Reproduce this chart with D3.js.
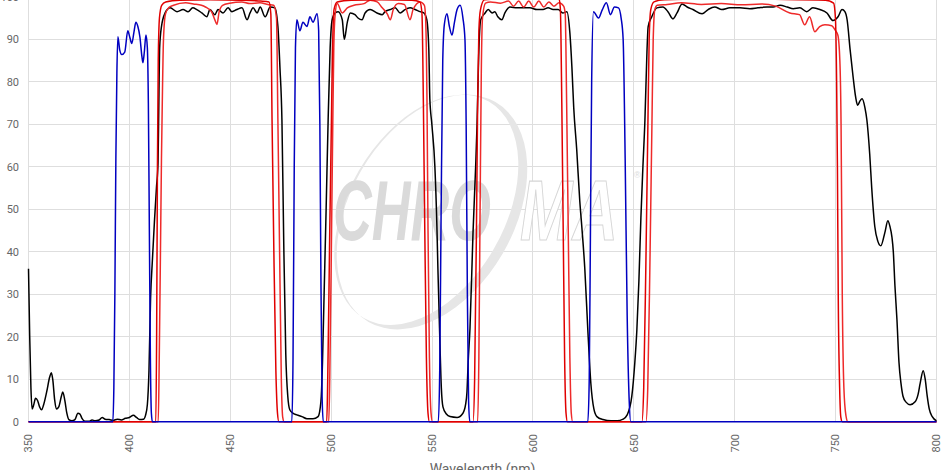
<!DOCTYPE html>
<html>
<head>
<meta charset="utf-8">
<script src="https://cdn.jsdelivr.net/npm/d3@7/dist/d3.min.js"></script>
<style>
  html, body { margin: 0; padding: 0; background: #fff; }
  svg { display: block; }
</style>
</head>
<body>
<svg id="chart" width="951" height="470"></svg>
<script>
// ---- DATA (wavelength nm, transmission %) ----
const xTicks = [350, 400, 450, 500, 550, 600, 650, 700, 750, 800];
const yTicks = [0, 10, 20, 30, 40, 50, 60, 70, 80, 90, 100];
const xLabel = "Wavelength (nm)";

const blackSeries = [
[350,36],[350.6,20],[351.2,8],[351.8,3],[352.6,4],[353.5,5.5],[354.5,5],[355.5,3.5],[356.5,2.8],[357.5,4],[359,7],[360.5,10.5],[361.3,11.5],[362,10],[363,5],[363.8,3],[365,3.5],[366.3,6],[367,7],[368,5],[369,2],[370,0.5],[371.5,0.2],[373,0.5],[374.5,2],[375.5,1.8],[376.5,0.8],[378,0.1],[380,0.1],[381.5,0.4],[383,0.2],[385,0.4],[386.5,1],[388,0.6],[390,0.5],[392,0.3],[394,0.6],[396,0.4],[398,0.8],[400,1],[402,1.5],[403.5,1],[405,0.5],[407,0.6],[408,1.5],
[408.9,4],[409.7,12],[410.5,29],[411.4,38],[412.4,47],[413.4,55],[414.2,61],[414.6,75],[415,88],[415.9,93],[417.7,96.2],[420.2,97.4],[423.6,96.5],[426.6,97],[429.1,96.5],
[431.4,97.4],[433.4,97],[435.9,96.2],[438.4,95.3],[439.9,97],[442.4,95.8],[443.9,97],[446.4,96.2],[448.9,97.4],[450.8,96.5],[453.3,97],[455.8,97.4],[458.3,94.6],[459.8,96.2],[461.3,97.4],[463.3,96.2],[464.8,97.6],[467.3,95.3],[469.8,97.6],
[472.1,97.4],[473.6,93],[474.6,83.5],[475.6,71],[476.5,42],[477.5,16],[478.5,6],[479.5,2.8],[481,2],[483,1.6],[485.5,1.2],[488,0.7],[491,0.7],[493.5,1.2],[494.5,3],[495.1,6],[495.7,14],[496.5,30],[497.5,50],[498.5,71],[499.5,88],[500.5,94.6],[502,96.2],[503.5,96.5],[505.5,94.6],[506.5,90],[508,94],[509.5,96.2],
[511.8,95.8],[513.3,95],[515.3,94.6],[516.8,96.2],[519.3,97],[522.7,96.2],[525.3,95.8],[526.7,96.5],[529.3,97],[531.7,97.4],[534.2,96.2],[536.6,97],[539.1,97.4],[541.6,97],[544.1,96.5],
[545.9,96.2],[547.4,94.6],[548.4,87.5],[548.9,76],[549.9,70],[551.4,60],[552.4,46],[552.9,36],[553.7,22],[554.6,8],[555.4,3.5],[557.1,1.8],[558.9,1.2],[562.4,1],[565.3,2],[566.6,4],[567.3,7],[567.9,14],[568.8,22],[570.3,44.5],[571.6,60],[572.3,70],[573.1,86],[574.1,94.6],[576.3,96.2],[577.8,97],[579.8,96.2],
[581.1,96.5],[582.6,95.3],[584.6,94.6],[586.1,96.2],[588.6,97.6],[592.1,97.4],[595,97.4],[598.5,97.4],[602,97],[605,97],[607.5,97.4],[610,97],[612.5,97],
[614.8,96.2],[616.8,96.5],[618.3,91.5],[619.3,83.5],[620.2,74],[621.7,64],[623.2,52],[624.2,46],[625.7,36],[627.2,21.6],[628.7,9],[630.2,3],[631.7,1.2],[634.7,0.5],[638.7,0.2],[641.7,0.2],[644.7,0.6],[646.7,1.6],
[649,6],[650.5,14],[651.5,21.6],[652.5,33],[653.5,48],[654.5,60],[655.5,71],[656.5,87],[657.1,93],[658.9,95.3],[661.4,97.4],[664.4,97.6],[666.9,96.5],[669.4,94.8],[671.4,96.2],[673.9,98.3],[676.4,97.6],[679.3,97],[683.8,96],[686.8,97],
[690.1,97.6],[693.6,97],[697.6,97.4],[702.6,97.4],[707.5,97.2],[711.5,97.4],[716,97.6],[719,97.6],[722.5,98],[726,97.6],[729,97.2],
[732.3,97.4],[735.7,96.5],[738.7,97.4],[742.2,97],[745.7,96.2],[748.7,94.4],[751.2,95.3],[753.2,97],[754.6,96.5],[755.7,94.6],[757.2,87.5],[758.7,81],
[759.9,76.5],[760.9,74.5],[762.1,75.5],[763.1,76],[764.5,74],[765.5,71],[766.9,63],[767.9,55],[769.4,46],[770.9,42.5],[772.4,41.4],[774.4,44.5],[775.9,47.3],[776.9,46],[777.9,43.5],[778.6,40],[779.4,32],[780.4,24],[781.4,14],[782.4,9],[783.4,6],[784.9,4.6],[786.9,4],[789.4,4.7],[790.9,6.5],[791.9,9],[793.4,12],[794.4,10],[795.4,6],[796.4,3],[797.9,1.2],[800,0.2]
];

const blueSeries = [
[350,0],[391.8,0],[392.3,8],[392.8,30],[393.3,62],[393.8,82],[394.3,90.6],[395.2,87.5],[396.2,86.4],[397.7,87],[399.2,92],[400.2,90.5],[401.2,89],[402.2,91.5],[403.2,94],[404.2,93],[405.2,90.6],[406.2,86],[406.7,84.5],[407.4,87],[408.2,91],[408.9,88],[409.4,75],[409.9,45],[410.4,15],[410.9,2],[411.4,0],
[480.5,0],[481.1,15],[481.7,60],[482.3,88],[483,94.6],[484.5,92],[486,94],[488,93],[489.5,95.3],[491,94],[493,96],[493.8,92],[494.4,70],[494.9,35],[495.5,6],[496.1,0],
[553.1,0],[553.8,12],[554.5,50],[555.3,85],[556.1,93.5],[557.4,96],[558.6,93],[559.9,91],[561.1,94],[562.4,97],[563.9,98],[565.3,95],[566.3,90],[566.9,70],[567.5,30],[568.1,5],[568.7,0],
[627.2,0],[627.9,10],[628.5,45],[629.1,80],[630,96.5],[632.5,95],[634.4,97],[636.4,98.6],[638.4,95.8],[640.4,97.6],[642.4,97.4],[643.7,95],[644.7,90],[645.7,62],[646.7,25],[647.7,5],[648.5,0],[800,0]
];

const redSeriesA = [
[350,0],[413.1,0],[413.5,20],[413.9,60],[414.3,85],[414.9,95],[416,98],[418,98.8],[425,99.2],[440,99.3],[455,99.2],[465,99],[469.2,98.8],[470.1,96],[470.7,71],[471.6,40],[472.6,12],[473.4,2],[474.1,0],
[497.8,0],[498.3,10],[499.3,45],[500.1,70],[500.7,88],[501.4,97],[503,98.8],[510,99.2],[525,99.3],[540,99.2],[544,98.8],[545,96],[545.7,75],[546.4,45],[547.2,15],[548,2],[548.7,0],
[570.3,0],[571.1,10],[572,45],[572.6,75],[573.2,92],[574,97],[576,99.3],[590,99.6],[605,99.6],[613,99.4],[613.6,97],[614.3,75],[615,45],[615.7,15],[616.4,2],[617.1,0],
[654,0],[654.9,8],[655.9,35],[657,71],[657.6,90],[658.4,97],[660,98.8],[665,99.3],[690,99.5],[720,99.4],[745,99.2],[749,98.5],[749.9,95],[750.5,80],[750.9,60],[751.3,30],[752,8],[752.6,1],[753.3,0],[800,0]
];

const redSeriesB = [
[350,0],[414.3,0],[414.8,15],[415.4,40],[415.9,62],[416.3,75],[416.9,90],[417.9,96],[419.4,97.4],[421.9,98],[427.9,98.6],
[431.7,98.3],[435.7,98],[437.7,97.6],[440.7,96.5],[442.4,94.5],[443.4,93.5],[444.5,96.5],[446.2,98],[449.7,98.5],[455.7,98.8],[459.7,98.4],[464.7,98.6],[468.7,98.2],
[471.5,98],[472.9,95],[473.6,71],[474.5,38],[475.3,10],[476,1],[476.7,0],
[498.8,0],[499.3,10],[500.2,45],[500.8,70],[501.3,88],[502,96],[503,98.4],[505.5,96.2],[508,97.4],
[511.3,98],[516.3,98.4],[519.3,99.2],[522.8,98.8],[525.3,97.4],[527.8,96],[529.3,94.6],[530.8,97],[533.3,98.4],[536.3,98.2],[539.1,94.6],[540.6,97],[544.1,98.8],
[546.2,98],[546.8,95],[547.5,75],[548,45],[548.7,15],[549.5,2],[550.2,0],
[572.6,0],[573.2,15],[573.8,50],[574.4,82],[575,95],[576.5,98.5],[579,98.8],
[583.9,98.5],[587.9,99],[590.4,97.8],[592.9,99],[595.4,97.6],[597.9,99],[600.4,97.6],[602.9,99],[605.4,97.6],[607.9,98.8],[610.4,97.8],[612.9,98.6],
[615.2,97.8],[616,96],[616.7,75],[617.5,45],[618.3,15],[619,2],[619.7,0],
[656,0],[656.9,8],[657.9,35],[659,71],[659.6,90],[660.4,97],[661.6,98],[666.5,98.2],[673.5,98.6],[683.5,98.2],
[693.3,98.4],[703.3,98.1],[713.3,98.3],[720.3,97.8],[727.3,96.2],
[732.1,95.8],[734.7,93.4],[737.1,95.3],[739.7,91.8],[742.1,93],[744.7,93.4],[748.1,93.2],[749.7,92.2],
[751.1,91],[752.1,85],[752.7,70],[753.3,30],[754.1,8],[755.1,1.5],[756.1,0],[800,0]
];

// ---- CHART ----
const svg = d3.select("#chart");
const x = d3.scaleLinear().domain([350, 800]).range([28.5, 936.5]);
const y = d3.scaleLinear().domain([0, 100]).range([421.7, -3.2]);

// grid
const grid = svg.append("g");
grid.selectAll("line.v").data(xTicks).join("line")
  .attr("x1", d => x(d)).attr("x2", d => x(d))
  .attr("y1", y(100)).attr("y2", y(0))
  .attr("stroke", "#dedede").attr("stroke-width", 1).attr("shape-rendering", "crispEdges");
grid.selectAll("line.h").data(yTicks).join("line")
  .attr("x1", x(350)).attr("x2", x(800))
  .attr("y1", d => y(d)).attr("y2", d => y(d))
  .attr("stroke", "#dedede").attr("stroke-width", 1).attr("shape-rendering", "crispEdges");

// watermark
const wm = svg.append("g").attr("class", "watermark");
const cx = 432, cy = 212;
function ellipsePath(ex, ey, rx, ry) {
  return `M${ex - rx},${ey} a${rx},${ry} 0 1,0 ${2*rx},0 a${rx},${ry} 0 1,0 ${-2*rx},0 Z`;
}
wm.append("path")
  .attr("d", ellipsePath(cx, cy, 82, 127) + ellipsePath(cx - 6, cy + 1, 78, 125))
  .attr("fill-rule", "evenodd")
  .attr("fill", "#e6e6e6")
  .attr("transform", `rotate(30, ${cx}, ${cy})`);
wm.append("text")
  .attr("x", 333).attr("y", 240)
  .attr("font-family", "Liberation Sans, Arial, sans-serif")
  .attr("font-weight", "bold").attr("font-style", "italic")
  .attr("font-size", 86)
  .attr("textLength", 158).attr("lengthAdjust", "spacingAndGlyphs")
  .attr("fill", "#dadada")
  .text("CHRO");
wm.append("text")
  .attr("x", 520).attr("y", 240)
  .attr("font-family", "Liberation Sans, Arial, sans-serif")
  .attr("font-weight", "bold").attr("font-style", "italic")
  .attr("font-size", 86)
  .attr("textLength", 98).attr("lengthAdjust", "spacingAndGlyphs")
  .attr("fill", "#ffffff").attr("stroke", "#d6d6d6").attr("stroke-width", 1.2)
  .text("MA");
wm.append("text")
  .attr("x", 634).attr("y", 178)
  .attr("font-family", "Liberation Sans, Arial, sans-serif")
  .attr("font-size", 9)
  .attr("fill", "#dcdcdc")
  .text("®");

// axis labels
const labelFont = "Roboto, 'Liberation Sans', Arial, sans-serif";
svg.append("g").selectAll("text").data(yTicks).join("text")
  .attr("x", 19).attr("y", d => y(d)).attr("dy", "0.35em")
  .attr("text-anchor", "end")
  .attr("font-family", labelFont).attr("font-size", 11).attr("fill", "#666")
  .text(d => d);
svg.append("g").selectAll("text").data(xTicks).join("text")
  .attr("transform", d => `translate(${x(d)},434) rotate(-90)`)
  .attr("dy", "0.35em")
  .attr("text-anchor", "end")
  .attr("font-family", labelFont).attr("font-size", 11).attr("fill", "#666")
  .text(d => d);
svg.append("text")
  .attr("x", (x(350) + x(800)) / 2).attr("y", 474)
  .attr("text-anchor", "middle")
  .attr("font-family", labelFont).attr("font-size", 14).attr("fill", "#666")
  .text(xLabel);

// lines
const line = d3.line()
  .x(d => x(d[0])).y(d => y(d[1]))
  .curve(d3.curveMonotoneX);
const series = [
  { data: blackSeries, color: "#000000" },
  { data: redSeriesB, color: "#ee2a2a" },
  { data: redSeriesA, color: "#e00000" },
  { data: blueSeries, color: "#0000c0" }
];
svg.append("g").selectAll("path").data(series).join("path")
  .attr("d", d => line(d.data))
  .attr("fill", "none")
  .attr("stroke", d => d.color)
  .attr("stroke-width", 1.5)
  .attr("stroke-linejoin", "round");
</script>
</body>
</html>
